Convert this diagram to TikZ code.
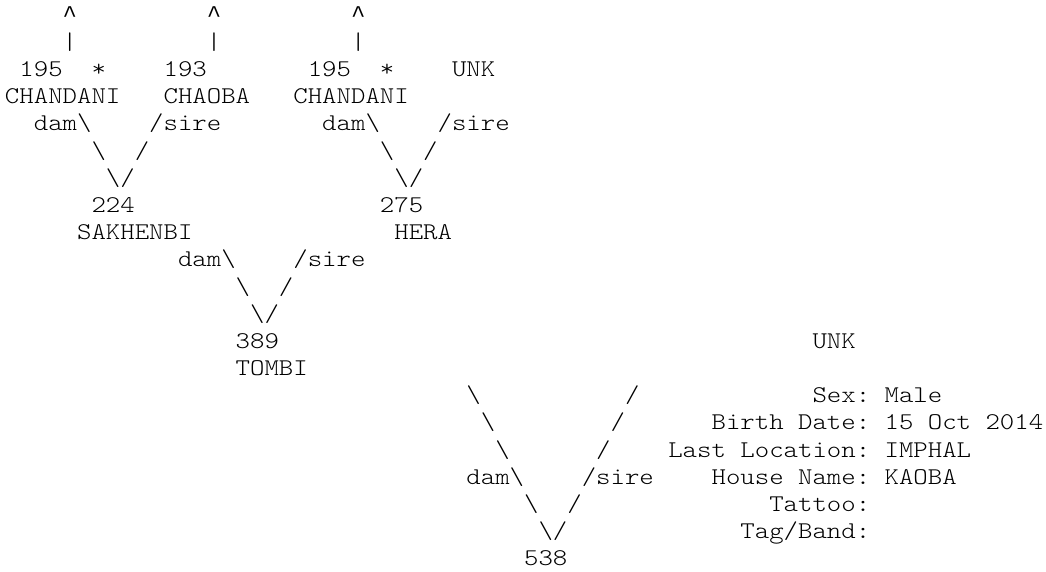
\documentclass[tikz,border=0pt]{standalone}
\usepackage{fontspec}
\newfontfamily\asciifont{lmmonolt10-regular.otf}[FakeStretch=1.1444]
\newfontfamily\caretfont{Liberation Mono}
\newcommand\bsl{\textbackslash}
\newcommand\crt{{\caretfont\fontsize{24}{27}\selectfont\textasciicircum}}
\tikzset{
  txt/.style={anchor=base west, inner sep=0pt, outer sep=0pt, text=black,
    font=\asciifont\fontsize{24}{27}\selectfont},
}
\begin{document}
\begin{tikzpicture}[x=14.42pt,y=-27.19pt]
\useasboundingbox (-5pt,22.12pt) rectangle (1041pt,-548.88pt);
\fill[white] (-5pt,22.12pt) rectangle (1041pt,-548.88pt);
% line 0-1
\node[txt] (up1) at (4,0) {\crt};
\node[txt] (up2) at (14,0) {\crt};
\node[txt] (up3) at (24,0) {\crt};
\node[txt] (bar1) at (4,1) {\textbar};
\node[txt] (bar2) at (14,1) {\textbar};
\node[txt] (bar3) at (24,1) {\textbar};
% line 2
\node[txt] (n195a) at (1,2) {195};
\node[txt] (stara) at (6,2) {*};
\node[txt] (n193) at (11,2) {193};
\node[txt] (n195b) at (21,2) {195};
\node[txt] (starb) at (26,2) {*};
\node[txt] (unka) at (31,2) {UNK};
% line 3
\node[txt] (chandania) at (0,3) {CHANDANI};
\node[txt] (chaoba) at (11,3) {CHAOBA};
\node[txt] (chandanib) at (20,3) {CHANDANI};
% line 4
\node[txt] (dama) at (2,4) {dam\bsl};
\node[txt] (sirea) at (10,4) {/sire};
\node[txt] (damb) at (22,4) {dam\bsl};
\node[txt] (sireb) at (30,4) {/sire};
% line 5
\node[txt] (la5) at (6,5) {\bsl};
\node[txt] (ra5) at (9,5) {/};
\node[txt] (lb5) at (26,5) {\bsl};
\node[txt] (rb5) at (29,5) {/};
% line 6
\node[txt] (va) at (7,6) {\bsl/};
\node[txt] (vb) at (27,6) {\bsl/};
% line 7-8
\node[txt] (n224) at (6,7) {224};
\node[txt] (n275) at (26,7) {275};
\node[txt] (sakhenbi) at (5,8) {SAKHENBI};
\node[txt] (hera) at (27,8) {HERA};
% line 9-11
\node[txt] (damc) at (12,9) {dam\bsl};
\node[txt] (sirec) at (20,9) {/sire};
\node[txt] (lc10) at (16,10) {\bsl};
\node[txt] (rc10) at (19,10) {/};
\node[txt] (vc) at (17,11) {\bsl/};
% line 12-13
\node[txt] (n389) at (16,12) {389};
\node[txt] (unkb) at (56,12) {UNK};
\node[txt] (tombi) at (16,13) {TOMBI};
% line 14
\node[txt] (ld14) at (32,14) {\bsl};
\node[txt] (rd14) at (43,14) {/};
\node[txt] (sexl) at (56,14) {Sex:};
\node[txt] (sexv) at (61,14) {Male};
% line 15
\node[txt] (ld15) at (33,15) {\bsl};
\node[txt] (rd15) at (42,15) {/};
\node[txt] (birthl) at (49,15) {Birth};
\node[txt] (birthl2) at (55,15) {Date:};
\node[txt] (birthd) at (61,15) {15};
\node[txt] (birthm) at (64,15) {Oct};
\node[txt] (birthy) at (68,15) {2014};
% line 16
\node[txt] (ld16) at (34,16) {\bsl};
\node[txt] (rd16) at (41,16) {/};
\node[txt] (locl) at (46,16) {Last};
\node[txt] (locl2) at (51,16) {Location:};
\node[txt] (locv) at (61,16) {IMPHAL};
% line 17
\node[txt] (damd) at (32,17) {dam\bsl};
\node[txt] (sired) at (40,17) {/sire};
\node[txt] (housel) at (49,17) {House};
\node[txt] (housel2) at (55,17) {Name:};
\node[txt] (housev) at (61,17) {KAOBA};
% line 18-20
\node[txt] (ld18) at (36,18) {\bsl};
\node[txt] (rd18) at (39,18) {/};
\node[txt] (tattool) at (53,18) {Tattoo:};
\node[txt] (vd) at (37,19) {\bsl/};
\node[txt] (tagl) at (51,19) {Tag/Band:};
\node[txt] (n538) at (36,20) {538};
\end{tikzpicture}
\end{document}
